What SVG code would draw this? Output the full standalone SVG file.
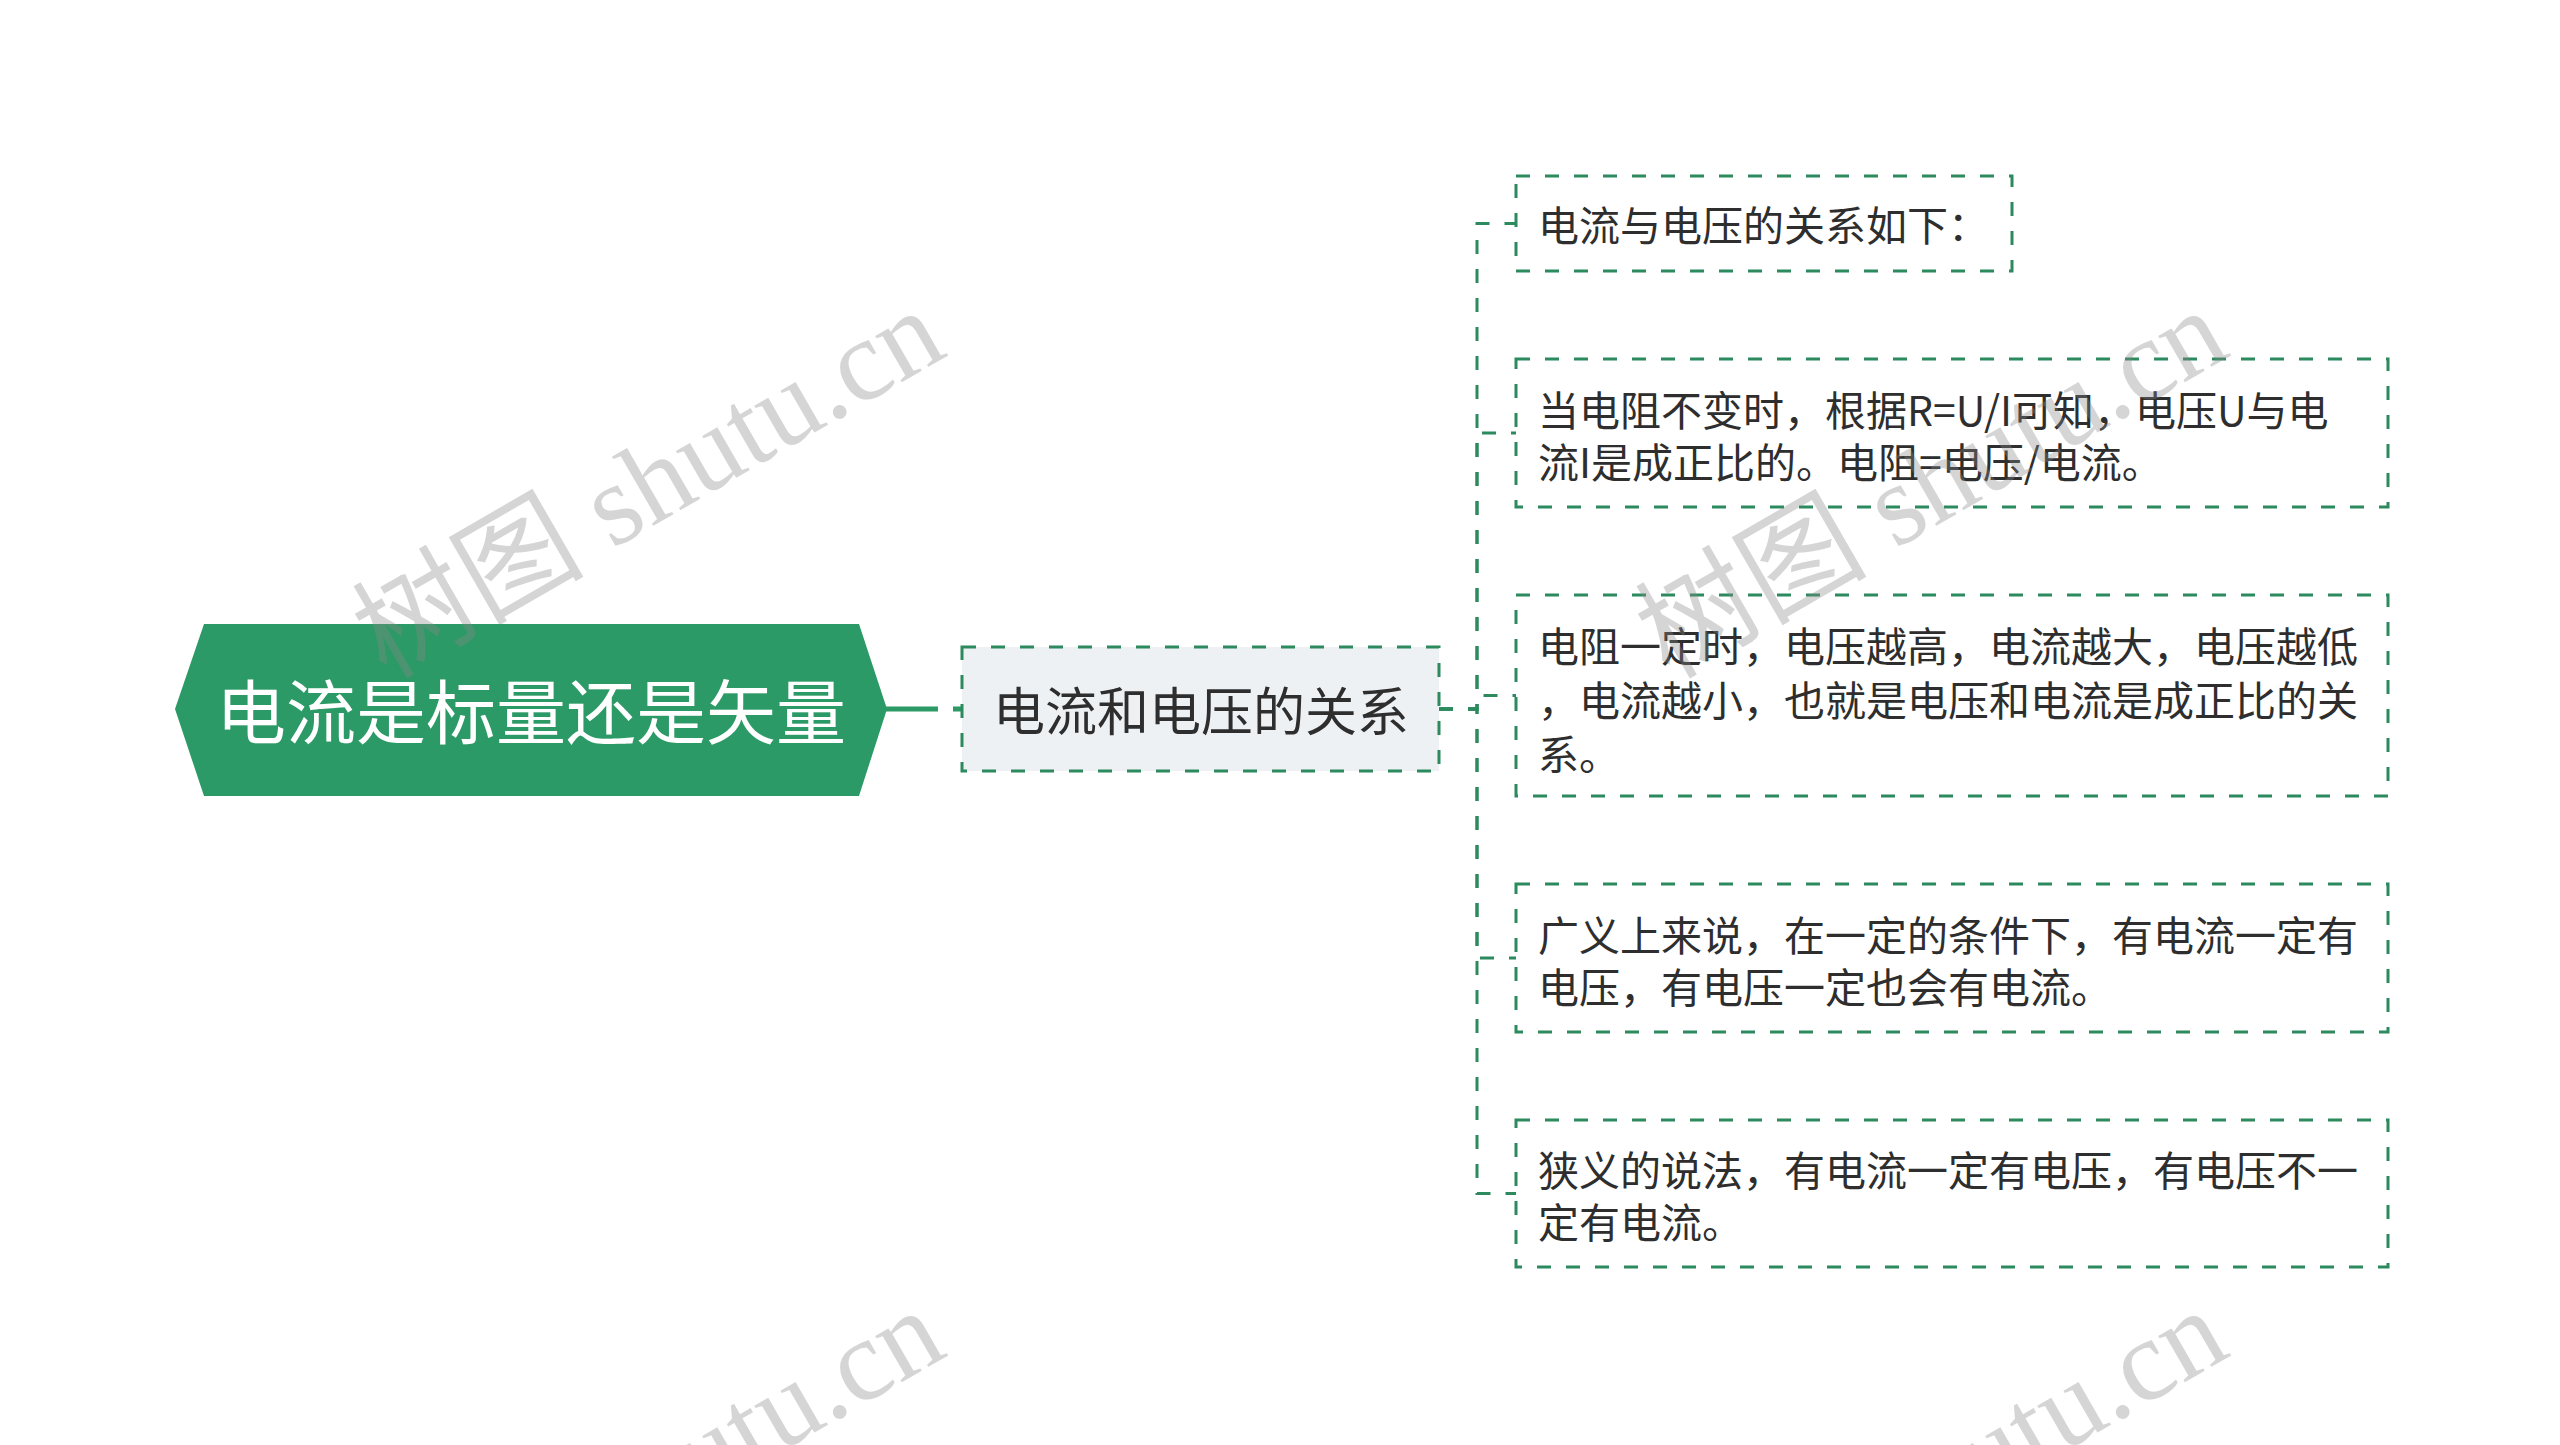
<svg xmlns="http://www.w3.org/2000/svg" width="2560" height="1445" viewBox="0 0 2560 1445">
<style>
.bg{fill:#ffffff}
.root{fill:#2b9a66}
.rootText{font-family:"Noto Sans CJK SC","Noto Sans",sans-serif;font-size:70px;fill:#ffffff}
.mid{fill:#eef1f4;stroke:#2d8a5f;stroke-width:3;stroke-dasharray:14 15}
.leaf{fill:#ffffff;stroke:#2d8a5f;stroke-width:3;stroke-dasharray:14 15}
.midText{font-family:"Noto Sans CJK SC","Noto Sans",sans-serif;font-size:52px;fill:#2e2e2e}
.leafText{font-family:"Noto Sans CJK SC","Noto Sans",sans-serif;font-size:41px;fill:#2e2e2e}
.conn{fill:none;stroke:#2d8a5f;stroke-width:3;stroke-dasharray:14 15}
.wm{font-family:"Liberation Serif","Noto Sans CJK SC",serif;font-size:116px;fill:#888888;fill-opacity:0.35}
</style>
<rect class="bg" x="0" y="0" width="2560" height="1445"/>
<g id="connectors">
<path d="M885 709 H962" fill="none" stroke="#2b9a66" stroke-width="5" stroke-dasharray="53 15 9 200"/>
<path class="conn" d="M1439 709 H1477 V223.5 H1516"/>
<path class="conn" d="M1439 709 H1477 V433 H1516"/>
<path class="conn" d="M1439 709 H1477 V695.5 H1516"/>
<path class="conn" d="M1439 709 H1477 V958 H1516"/>
<path class="conn" d="M1439 709 H1477 V1193.5 H1516"/>
</g>
<g id="node-root">
<polygon class="root" points="175,709 204,624 859,624 887,709 859,796 204,796"/>
<text class="rootText" x="531" y="708" text-anchor="middle" dominant-baseline="central">电流是标量还是矢量</text>
</g>
<g id="node-mid">
<rect class="mid" x="962" y="647" width="477" height="124"/>
<text class="midText" x="1201" y="708" text-anchor="middle" dominant-baseline="central">电流和电压的关系</text>
</g>
<g id="node-leaf1">
<rect class="leaf" x="1516" y="176" width="496" height="95"/>
<text class="leafText" x="1538" y="223" dominant-baseline="central">电流与电压的关系如下：</text>
</g>
<g id="node-leaf2">
<rect class="leaf" x="1516" y="359" width="872" height="148"/>
<text class="leafText" x="1538" y="408" dominant-baseline="central">当电阻不变时，根据R=U/I可知，电压U与电</text>
<text class="leafText" x="1538" y="460" dominant-baseline="central">流I是成正比的。电阻=电压/电流。</text>
</g>
<g id="node-leaf3">
<rect class="leaf" x="1516" y="595" width="872" height="201"/>
<text class="leafText" x="1538" y="644" dominant-baseline="central">电阻一定时，电压越高，电流越大，电压越低</text>
<text class="leafText" x="1538" y="698" dominant-baseline="central">，电流越小，也就是电压和电流是成正比的关</text>
<text class="leafText" x="1538" y="752" dominant-baseline="central">系。</text>
</g>
<g id="node-leaf4">
<rect class="leaf" x="1516" y="884" width="872" height="148"/>
<text class="leafText" x="1538" y="933" dominant-baseline="central">广义上来说，在一定的条件下，有电流一定有</text>
<text class="leafText" x="1538" y="985" dominant-baseline="central">电压，有电压一定也会有电流。</text>
</g>
<g id="node-leaf5">
<rect class="leaf" x="1516" y="1120" width="872" height="147"/>
<text class="leafText" x="1538" y="1168" dominant-baseline="central">狭义的说法，有电流一定有电压，有电压不一</text>
<text class="leafText" x="1538" y="1220" dominant-baseline="central">定有电流。</text>
</g>
<g id="watermarks">
<text class="wm" x="386" y="680" transform="rotate(-30 386 680)">树图 shutu.cn</text>
<text class="wm" x="1669" y="680" transform="rotate(-30 1669 680)">树图 shutu.cn</text>
<text class="wm" x="386" y="1680" transform="rotate(-30 386 1680)">树图 shutu.cn</text>
<text class="wm" x="1669" y="1680" transform="rotate(-30 1669 1680)">树图 shutu.cn</text>
</g>
</svg>
